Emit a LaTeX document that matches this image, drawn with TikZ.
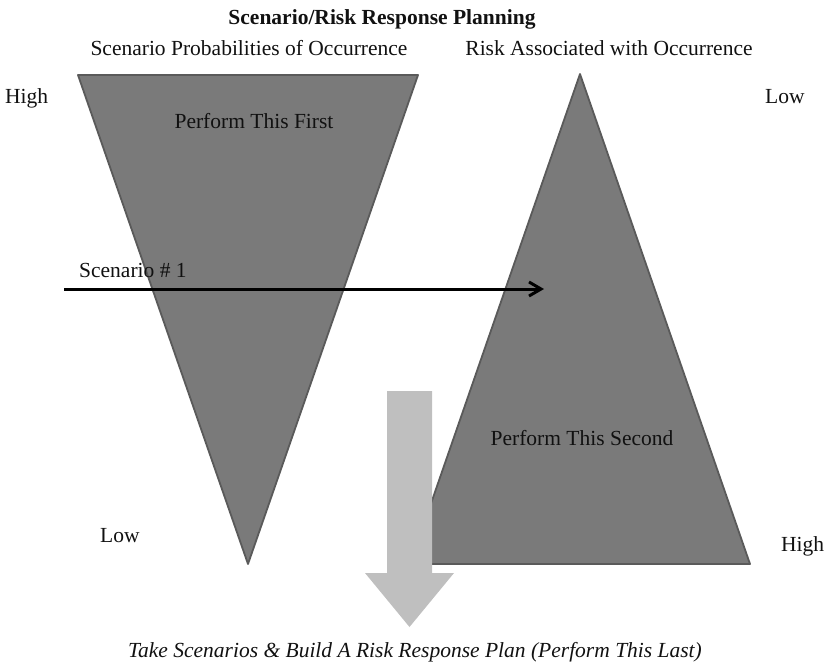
\documentclass[tikz,border=0pt]{standalone}
\usepackage{fontspec}
\setmainfont{Liberation Serif}
\usetikzlibrary{arrows.meta}
\definecolor{wedgefill}{HTML}{7A7A7A}
\definecolor{wedgeedge}{HTML}{5A5A5A}
\definecolor{planarrow}{HTML}{BFBFBF}
\definecolor{inktext}{HTML}{111111}
\newcommand{\lblsize}{\fontsize{21.5}{25}\selectfont}
\tikzset{
  wedge/.style={fill=wedgefill,draw=wedgeedge,line width=1.8pt,line join=round},
  lbl/.style={inner sep=0pt,anchor=base,text=inktext,font=\lblsize},
  lblw/.style={lbl,anchor=base west},
  flowarrow/.style={line width=3pt,-{Straight Barb[length=12pt,width=14pt,line width=3pt]}},
  bigarrow/.style={fill=planarrow,draw=none}
}
\begin{document}
\begin{tikzpicture}[x=1pt,y=-1pt]
\useasboundingbox (0,0) rectangle (828,665);

% probability wedge (inverted) and risk wedge
\coordinate (pTL) at (78,75);
\coordinate (pTR) at (418,75);
\coordinate (pB) at (248,564);
\coordinate (rT) at (580,74);
\coordinate (rBR) at (750,564);
\coordinate (rBL) at (410,564);
\draw[wedge] (pTL) -- (pTR) -- (pB) -- cycle;
\draw[wedge] (rT) -- (rBR) -- (rBL) -- cycle;

% headings
\node[lbl,font=\bfseries\lblsize] (title) at (382,24) {Scenario/Risk Response Planning};
\node[lbl] (probhead) at (249,55) {Scenario Probabilities of Occurrence};
\node[lbl] (riskhead) at (609,55) {Risk Associated with Occurrence};

% scale ends
\node[lblw] (phigh) at (5,103) {High};
\node[lblw] (plow) at (100,542) {Low};
\node[lblw] (rlow) at (765,103) {Low};
\node[lblw] (rhigh) at (781,551) {High};

% wedge captions
\node[lbl] (first) at (254,128) {Perform This First};
\node[lbl] (second) at (582,445) {Perform This Second};

% scenario line across both wedges
\coordinate (s1start) at (64,289);
\coordinate (s1end) at (544,289);
\node[lblw] (s1lbl) at (79,277) {Scenario \# 1};
\draw[flowarrow] (s1start) -- (s1end);

% downward arrow to the response plan
\draw[bigarrow] (387,391) -- (432,391) -- (432,573) -- (454,573) -- (409.5,627)
  -- (365,573) -- (387,573) -- cycle;
\node[lbl,font=\itshape\lblsize] (plan) at (415,657)
  {Take Scenarios \& Build A Risk Response Plan (Perform This Last)};
\end{tikzpicture}
\end{document}
